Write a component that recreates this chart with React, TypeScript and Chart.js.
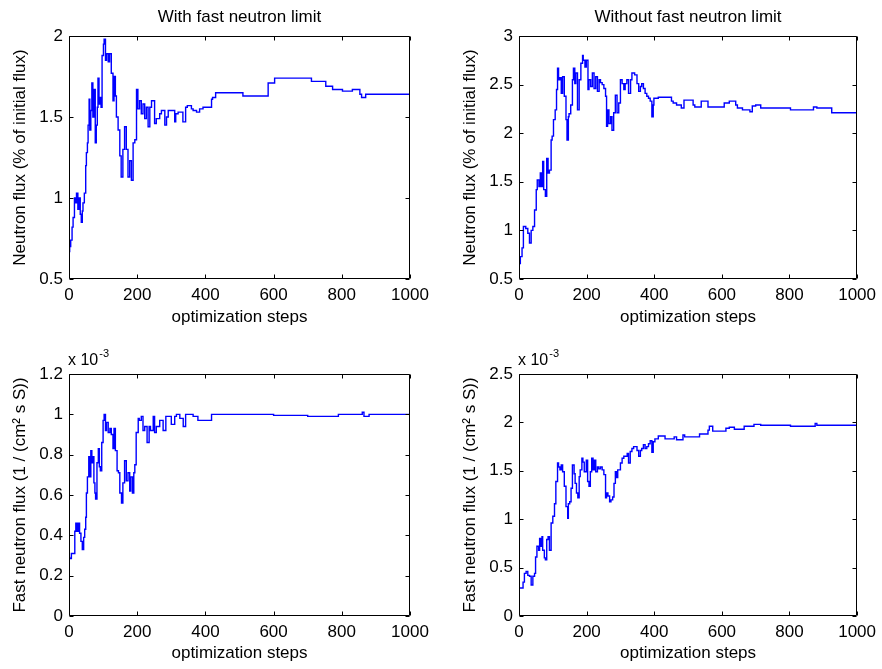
import React, { useEffect, useRef } from "react";
import { Chart, registerables } from "chart.js";

Chart.register(...registerables);

// ---------- DATA ----------
// Panel titles / labels
const panelTitles = ["With fast neutron limit", "Without fast neutron limit"];
const xLabel = "optimization steps";
const yLabelTop = "Neutron flux (% of initial flux)";
const yLabelBottom = "Fast neutron flux (1 / (cm² s S))";
const xTicks = { min: 0, max: 1000, step: 200 };

// Top-left: neutron flux, with fast neutron limit
const stepsA = [0, 2, 5, 9, 12, 16, 19, 22, 26, 30, 33, 36, 39, 41, 45, 49, 51, 54, 56, 59, 61, 64, 67, 70, 73, 77, 80, 83, 85, 88, 92, 94, 97, 101, 103, 107, 110, 115, 119, 124, 129, 132, 136, 139, 144, 149, 153, 158, 163, 168, 173, 178, 183, 188, 193, 198, 202, 207, 212, 217, 222, 227, 232, 237, 242, 251, 256, 266, 271, 281, 286, 291, 295, 310, 313, 320, 334, 342, 347, 359, 364, 374, 383, 393, 403, 418, 421, 430, 510, 584, 603, 711, 753, 773, 802, 831, 853, 858, 870, 904, 1000];
const fluxA = [0.67, 0.67, 0.7, 0.74, 0.82, 0.88, 1.0, 0.97, 1.03, 0.93, 1.0, 0.9, 0.85, 0.92, 0.97, 1.03, 1.2, 1.28, 1.34, 1.45, 1.61, 1.42, 1.54, 1.71, 1.5, 1.67, 1.34, 1.45, 1.56, 1.74, 1.58, 1.62, 1.56, 1.88, 1.95, 1.98, 1.85, 1.89, 1.84, 1.89, 1.77, 1.6, 1.75, 1.63, 1.5, 1.42, 1.26, 1.13, 1.3, 1.44, 1.3, 1.13, 1.23, 1.11, 1.34, 1.36, 1.67, 1.55, 1.6, 1.52, 1.58, 1.49, 1.56, 1.44, 1.56, 1.6, 1.46, 1.49, 1.52, 1.54, 1.45, 1.5, 1.54, 1.54, 1.47, 1.52, 1.53, 1.47, 1.56, 1.57, 1.55, 1.54, 1.53, 1.55, 1.56, 1.56, 1.61, 1.62, 1.65, 1.63, 1.71, 1.74, 1.72, 1.69, 1.67, 1.66, 1.67, 1.64, 1.62, 1.64, 1.64];

// Top-right: neutron flux, without fast neutron limit
const stepsB = [0, 4, 9, 13, 20, 26, 31, 36, 41, 46, 51, 54, 59, 63, 67, 70, 73, 78, 82, 86, 90, 95, 98, 102, 107, 111, 114, 117, 121, 125, 129, 134, 139, 142, 146, 148, 153, 158, 161, 165, 168, 173, 178, 183, 188, 190, 195, 199, 204, 207, 212, 217, 222, 227, 232, 237, 241, 246, 251, 256, 259, 262, 266, 271, 275, 280, 285, 290, 295, 300, 305, 310, 314, 319, 324, 330, 334, 342, 349, 354, 359, 363, 368, 373, 378, 383, 388, 393, 397, 399, 412, 451, 456, 466, 480, 488, 490, 515, 520, 539, 559, 607, 622, 641, 646, 661, 683, 690, 700, 715, 803, 871, 881, 925, 949, 1000];
const fluxB = [0.66, 0.66, 0.73, 0.82, 1.04, 1.02, 0.97, 0.87, 1.0, 1.04, 1.21, 1.42, 1.52, 1.45, 1.59, 1.45, 1.71, 1.42, 1.35, 1.74, 1.59, 1.62, 1.93, 1.97, 2.14, 2.24, 2.45, 2.67, 2.55, 2.57, 2.41, 2.58, 2.38, 2.14, 1.93, 2.17, 2.2, 2.29, 2.55, 2.67, 2.51, 2.62, 2.24, 2.55, 2.72, 2.8, 2.75, 2.68, 2.75, 2.45, 2.55, 2.48, 2.62, 2.46, 2.58, 2.43, 2.55, 2.52, 2.5, 2.46, 2.38, 2.07, 2.24, 2.1, 2.17, 2.03, 2.21, 2.39, 2.21, 2.31, 2.55, 2.51, 2.45, 2.51, 2.55, 2.41, 2.55, 2.62, 2.6, 2.51, 2.43, 2.48, 2.51, 2.46, 2.41, 2.38, 2.36, 2.33, 2.17, 2.29, 2.36, 2.37, 2.33, 2.31, 2.29, 2.26, 2.34, 2.34, 2.29, 2.27, 2.33, 2.27, 2.31, 2.33, 2.29, 2.26, 2.24, 2.22, 2.28, 2.29, 2.26, 2.24, 2.27, 2.26, 2.21, 2.21];

// Bottom-left: fast neutron flux (x 10^-3), with limit
const stepsC = [0, 2, 7, 12, 17, 20, 23, 27, 31, 35, 39, 43, 46, 49, 51, 54, 58, 61, 64, 67, 70, 73, 76, 78, 82, 86, 89, 92, 96, 100, 103, 107, 110, 115, 120, 124, 129, 132, 136, 141, 145, 149, 154, 158, 163, 168, 173, 178, 181, 186, 190, 193, 197, 203, 206, 212, 217, 222, 229, 235, 239, 247, 251, 256, 266, 276, 284, 290, 300, 310, 315, 325, 335, 342, 349, 364, 378, 383, 398, 418, 422, 600, 603, 700, 760, 790, 800, 860, 865, 880, 895, 1000];
const fastC = [0.29, 0.29, 0.285, 0.31, 0.31, 0.42, 0.46, 0.42, 0.46, 0.41, 0.37, 0.33, 0.39, 0.43, 0.49, 0.61, 0.69, 0.79, 0.69, 0.82, 0.76, 0.79, 0.66, 0.61, 0.58, 0.76, 0.83, 0.74, 0.72, 0.86, 0.97, 1.0, 0.92, 0.96, 0.91, 0.93, 0.9, 0.83, 0.93, 0.82, 0.72, 0.71, 0.61, 0.56, 0.66, 0.77, 0.67, 0.71, 0.62, 0.69, 0.61, 0.71, 0.75, 0.91, 0.98, 0.97, 0.99, 0.92, 0.94, 0.86, 0.94, 0.92, 0.99, 0.91, 0.94, 0.97, 0.92, 0.99, 0.99, 0.95, 0.99, 1.0, 0.98, 0.94, 1.0, 1.0, 0.99, 0.97, 0.97, 0.97, 1.0, 1.0, 0.995, 0.995, 0.99, 0.99, 1.0, 1.0, 1.01, 0.99, 1.0, 1.0];

// Bottom-right: fast neutron flux (x 10^-3), without limit
const stepsD = [0, 2, 12, 16, 21, 26, 31, 36, 41, 46, 49, 53, 58, 61, 65, 68, 70, 75, 78, 82, 86, 90, 95, 100, 105, 109, 114, 117, 121, 125, 129, 134, 139, 144, 146, 150, 154, 158, 163, 166, 170, 174, 178, 181, 186, 189, 193, 199, 203, 207, 211, 215, 219, 223, 227, 232, 236, 241, 246, 251, 256, 259, 263, 268, 272, 277, 281, 285, 288, 292, 295, 300, 305, 310, 315, 320, 324, 329, 334, 339, 344, 349, 354, 359, 363, 368, 373, 378, 383, 388, 393, 397, 402, 412, 432, 459, 466, 485, 490, 534, 559, 563, 573, 612, 622, 637, 666, 695, 715, 803, 876, 881, 925, 1000];
const fastD = [0.29, 0.29, 0.29, 0.35, 0.44, 0.46, 0.42, 0.41, 0.32, 0.41, 0.44, 0.61, 0.72, 0.68, 0.8, 0.72, 0.82, 0.68, 0.6, 0.58, 0.79, 0.82, 0.68, 0.96, 1.03, 1.16, 1.39, 1.58, 1.54, 1.51, 1.56, 1.49, 1.34, 1.13, 1.01, 1.16, 1.18, 1.32, 1.56, 1.47, 1.37, 1.27, 1.22, 1.44, 1.51, 1.63, 1.59, 1.49, 1.61, 1.39, 1.34, 1.49, 1.63, 1.51, 1.61, 1.49, 1.54, 1.52, 1.54, 1.51, 1.46, 1.22, 1.27, 1.24, 1.18, 1.2, 1.23, 1.37, 1.49, 1.43, 1.51, 1.51, 1.58, 1.63, 1.65, 1.65, 1.68, 1.58, 1.7, 1.73, 1.75, 1.75, 1.71, 1.65, 1.71, 1.73, 1.77, 1.73, 1.75, 1.78, 1.81, 1.69, 1.8, 1.83, 1.86, 1.83, 1.85, 1.82, 1.87, 1.85, 1.88, 1.92, 1.96, 1.91, 1.94, 1.95, 1.93, 1.96, 1.98, 1.97, 1.96, 1.99, 1.97, 1.97];

// y-axis ranges
const yRangeA = { min: 0.5, max: 2, step: 0.5 };
const yRangeB = { min: 0.5, max: 3, step: 0.5 };
const yRangeC = { min: 0, max: 1.2, step: 0.2 };
const yRangeD = { min: 0, max: 2.5, step: 0.5 };

// ---------- STYLE ----------
const FONT_FAMILY = "'Liberation Sans', Arial, Helvetica, sans-serif";
const FS = 17;
const LINE_COLOR = "#0000ff";

const fmtTick = (v: any) => String(Number(Number(v).toFixed(3)));

const framePlugin = {
  id: "matlabFrame",
  afterDatasetsDraw(chart: any) {
    const { ctx, chartArea } = chart;
    const { left, top, right, bottom } = chartArea;
    const xs = chart.scales.x;
    const ys = chart.scales.y;
    const tl = 4;
    ctx.save();
    ctx.strokeStyle = "#000";
    ctx.lineWidth = 1;
    ctx.beginPath();
    const L = Math.round(left) + 0.5;
    const R = Math.round(right) - 0.5;
    const T = Math.round(top) + 0.5;
    const B = Math.round(bottom) - 0.5;
    ctx.rect(L, T, R - L, B - T);
    xs.ticks.forEach((t: any) => {
      const px = Math.round(xs.getPixelForValue(t.value)) + 0.5;
      ctx.moveTo(px, B);
      ctx.lineTo(px, B - tl);
      ctx.moveTo(px, T);
      ctx.lineTo(px, T + tl);
    });
    ys.ticks.forEach((t: any) => {
      const py = Math.round(ys.getPixelForValue(t.value)) + 0.5;
      ctx.moveTo(L, py);
      ctx.lineTo(L + tl, py);
      ctx.moveTo(R, py);
      ctx.lineTo(R - tl, py);
    });
    ctx.stroke();

    const opts = chart.options.plugins.matlabFrame || {};
    ctx.fillStyle = "#000";
    if (opts.title) {
      ctx.font = `${FS}px ${FONT_FAMILY}`;
      ctx.textAlign = "center";
      ctx.textBaseline = "middle";
      ctx.fillText(opts.title, (left + right) / 2, top - 19);
    }
    if (opts.exponent) {
      ctx.textBaseline = "alphabetic";
      ctx.textAlign = "left";
      ctx.font = `${FS - 1}px ${FONT_FAMILY}`;
      const base = "x 10";
      const bx = left - 1;
      const by = top - 9;
      ctx.fillText(base, bx, by);
      const w = ctx.measureText(base).width;
      ctx.font = `11px ${FONT_FAMILY}`;
      ctx.fillText(opts.exponent, bx + w + 1, by - 8);
    }
    ctx.restore();
  },
};

type PanelSpec = {
  steps: number[];
  values: number[];
  yRange: { min: number; max: number; step: number };
  title?: string;
  yLabel: string;
  exponent?: string;
  canvas: { x: number; y: number; w: number; h: number };
  area: { left: number; top: number; right: number; bottom: number }; // in canvas coords
  yTitlePad: number;
  xTitlePad: number;
};

function buildConfig(p: PanelSpec): any {
  const font = { family: FONT_FAMILY, size: FS };
  return {
    type: "line",
    data: {
      datasets: [
        {
          data: p.steps.map((s, i) => ({ x: s, y: p.values[i] })),
          borderColor: LINE_COLOR,
          borderWidth: 1.4,
          pointRadius: 0,
          stepped: "after",
          fill: false,
        },
      ],
    },
    options: {
      animation: false,
      responsive: false,
      events: [],
      layout: {
        padding: {
          left: 0,
          right: p.canvas.w - p.area.right,
          top: p.area.top,
          bottom: 0,
        },
      },
      plugins: {
        legend: { display: false },
        tooltip: { enabled: false },
        title: { display: false },
        matlabFrame: { title: p.title || "", exponent: p.exponent || "" },
      },
      scales: {
        x: {
          type: "linear",
          min: xTicks.min,
          max: xTicks.max,
          grid: { display: false, drawTicks: false },
          border: { display: false },
          ticks: { stepSize: xTicks.step, color: "#000", font, padding: 6, maxRotation: 0, callback: fmtTick },
          title: {
            display: true,
            text: xLabel,
            color: "#000",
            font,
            padding: { top: 0, bottom: p.xTitlePad },
          },
          afterFit: (s: any) => {
            s.height = p.canvas.h - p.area.bottom;
          },
        },
        y: {
          type: "linear",
          min: p.yRange.min,
          max: p.yRange.max,
          grid: { display: false, drawTicks: false },
          border: { display: false },
          ticks: { stepSize: p.yRange.step, color: "#000", font, padding: 6, callback: fmtTick },
          title: {
            display: true,
            text: p.yLabel,
            color: "#000",
            font,
            padding: { top: p.yTitlePad, bottom: 0 },
          },
          afterFit: (s: any) => {
            s.width = p.area.left;
          },
        },
      },
    },
    plugins: [framePlugin],
  };
}

const panels: PanelSpec[] = [
  {
    steps: stepsA,
    values: fluxA,
    yRange: yRangeA,
    title: panelTitles[0],
    yLabel: yLabelTop,
    canvas: { x: 0, y: 0, w: 441, h: 334 },
    area: { left: 69, top: 36, right: 410, bottom: 279 },
    yTitlePad: 10,
    xTitlePad: 6,
  },
  {
    steps: stepsB,
    values: fluxB,
    yRange: yRangeB,
    title: panelTitles[1],
    yLabel: yLabelTop,
    canvas: { x: 441, y: 0, w: 441, h: 334 },
    area: { left: 78, top: 36, right: 420, bottom: 279 },
    yTitlePad: 19,
    xTitlePad: 6,
  },
  {
    steps: stepsC,
    values: fastC,
    yRange: yRangeC,
    yLabel: yLabelBottom,
    exponent: "-3",
    canvas: { x: 0, y: 334, w: 441, h: 335 },
    area: { left: 69, top: 40, right: 410, bottom: 282 },
    yTitlePad: 10,
    xTitlePad: 5,
  },
  {
    steps: stepsD,
    values: fastD,
    yRange: yRangeD,
    yLabel: yLabelBottom,
    exponent: "-3",
    canvas: { x: 441, y: 334, w: 441, h: 335 },
    area: { left: 78, top: 40, right: 420, bottom: 282 },
    yTitlePad: 19,
    xTitlePad: 5,
  },
];

function Panel({ spec }: { spec: PanelSpec }) {
  const ref = useRef<HTMLCanvasElement | null>(null);
  useEffect(() => {
    if (!ref.current) return;
    const chart = new Chart(ref.current, buildConfig(spec));
    return () => chart.destroy();
  }, [spec]);
  return (
    <canvas
      ref={ref}
      width={spec.canvas.w}
      height={spec.canvas.h}
      style={{
        position: "absolute",
        left: spec.canvas.x,
        top: spec.canvas.y,
        width: spec.canvas.w,
        height: spec.canvas.h,
      }}
    />
  );
}

export default function App() {
  return (
    <div
      style={{
        position: "absolute",
        left: 0,
        top: 0,
        width: 882,
        height: 669,
        background: "#fff",
      }}
    >
      {panels.map((p, i) => (
        <Panel key={i} spec={p} />
      ))}
    </div>
  );
}
